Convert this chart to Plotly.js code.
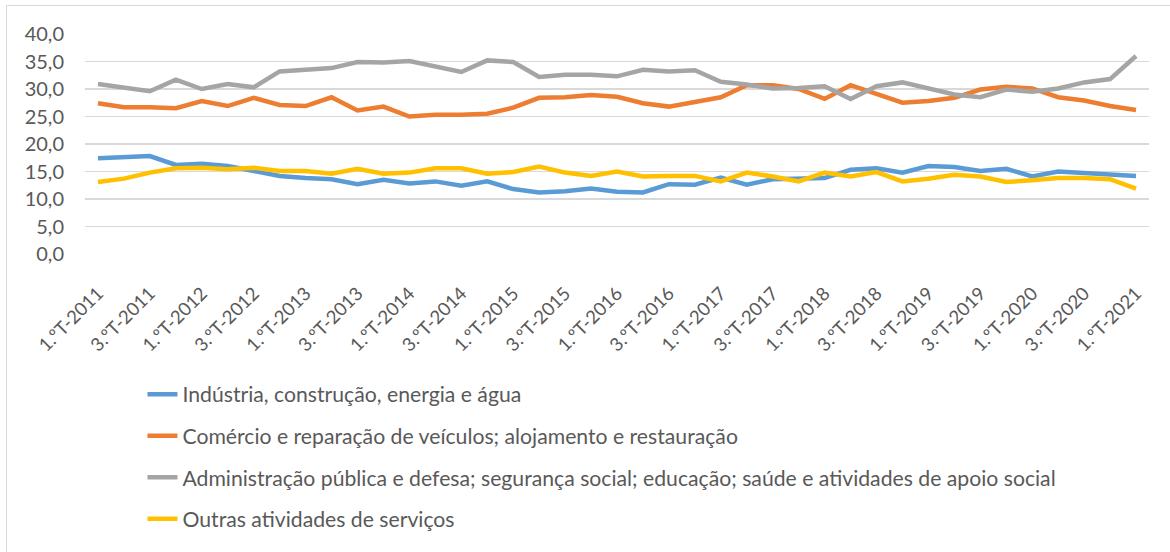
<!DOCTYPE html>
<html>
<head>
<meta charset="utf-8">
<script src="https://cdn.plot.ly/plotly-3.0.1.min.js"></script>
<style>
  html, body { margin: 0; padding: 0; background: #fff; }
  #wrap { position: relative; width: 1170px; height: 552px; overflow: hidden; }
  #chart { width: 1170px; height: 552px; }
  #frame { position: absolute; left: 6px; top: 5px; width: 1200px; height: 600px;
           border-left: 1.5px solid #d9d9d9; border-top: 1.5px solid #d9d9d9; pointer-events: none; }
</style>
</head>
<body>
<div id="wrap"><div id="chart"></div><div id="frame"></div></div>
<script>
// Quarters 1.ºT-2011 .. 1.ºT-2021
const years = [2011,2012,2013,2014,2015,2016,2017,2018,2019,2020,2021];
const quarters = [];
years.forEach(y => { for (let q = 1; q <= 4; q++) { if (y === 2021 && q > 1) break; quarters.push(q + ".ºT-" + y); } });

const seriesNames = [
  "Indústria, construção, energia e água",
  "Comércio e reparação de veículos; alojamento e restauração",
  "Administração pública e defesa; segurança social; educação; saúde e atividades de apoio social",
  "Outras atividades de serviços"
];

const industria = [17.4,17.5,17.8,16.2,16.4,16.0,15.0,14.2,13.8,13.6,12.7,
                   13.5,12.8,13.2,12.4,13.2,11.8,11.2,11.4,11.9,11.3,11.2,12.7,
                   12.6,13.9,12.6,13.6,13.6,13.8,15.3,15.6,14.8,16.0,15.8,
                   15.1,15.5,14.1,15.0,14.8,14.4,14.2];
const comercio = [27.4,26.7,26.7,26.5,27.8,26.9,28.4,27.1,26.9,28.5,26.1,
                  26.8,25.0,25.3,25.3,25.5,26.6,28.4,28.5,28.9,28.6,27.4,26.8,
                  27.6,28.5,30.7,30.7,30.0,28.2,30.7,29.2,27.5,27.8,28.4,
                  29.9,30.4,30.1,28.5,27.9,26.9,26.2];
const administracao = [30.9,30.2,29.6,31.7,30.0,30.9,30.3,33.2,33.5,33.8,34.9,
                       34.8,35.1,34.1,33.1,35.2,34.9,32.2,32.6,32.6,32.3,33.5,33.2,
                       33.4,31.3,30.8,30.1,30.2,30.5,28.2,30.5,31.2,30.0,29.0,
                       28.5,29.9,29.5,30.1,31.2,31.8,36.0];
const outras = [13.1,13.7,14.8,15.6,15.7,15.4,15.7,15.1,15.1,14.6,15.5,
                14.6,14.8,15.6,15.6,14.6,14.9,15.9,14.8,14.2,15.0,14.1,14.2,
                14.2,13.2,14.8,14.1,13.2,14.8,14.1,14.9,13.2,13.7,14.4,
                14.1,13.1,13.4,13.8,13.8,13.6,11.9];

const colors = ["#5B9BD5", "#ED7D31", "#A5A5A5", "#FFC000"];
const values = [industria, comercio, administracao, outras];

const tickVals = quarters.filter((q, i) => i % 2 === 0);
const yTicks = [0,5,10,15,20,25,30,35,40];

const FONT = "Lato, sans-serif";
const traces = values.map((v, k) => ({
  type: "scatter", mode: "lines",
  x: quarters, y: v, name: seriesNames[k],
  legendgroup: "g" + k,
  line: { color: colors[k], width: 4.5, shape: "linear" },
  hoverinfo: "skip"
}));

const layout = {
  width: 1170, height: 552,
  margin: { l: 85, r: 21, t: 34, b: 291 },
  paper_bgcolor: "#ffffff", plot_bgcolor: "#ffffff",
  separators: ",.",
  font: { family: FONT, color: "#595959", size: 19 },
  xaxis: {
    type: "category",
    tickmode: "array", tickvals: tickVals, ticktext: tickVals,
    tickangle: -45, ticks: "", showgrid: false, zeroline: false, showline: false,
    tickfont: { family: FONT, size: 18.5, color: "#595959" },
    ticklabelstandoff: 24,
    range: [-0.5, quarters.length - 0.5]
  },
  yaxis: {
    range: [0, 40], tickmode: "array", tickvals: yTicks,
    tickformat: ".1f", showgrid: true, gridcolor: "#d9d9d9", gridwidth: 1.3,
    zeroline: false, showline: false, ticks: "",
    tickfont: { family: FONT, size: 20, color: "#595959" },
    ticklabelstandoff: 20
  },
  showlegend: true,
  legend: {
    orientation: "v", x: 0.054, xanchor: "left", y: -0.545, yanchor: "top",
    traceorder: "grouped", tracegroupgap: 11,
    font: { family: FONT, size: 21.2, color: "#595959" },
    bgcolor: "rgba(0,0,0,0)"
  }
};

Plotly.newPlot("chart", traces, layout, { staticPlot: true, displayModeBar: false });
</script>
</body>
</html>
